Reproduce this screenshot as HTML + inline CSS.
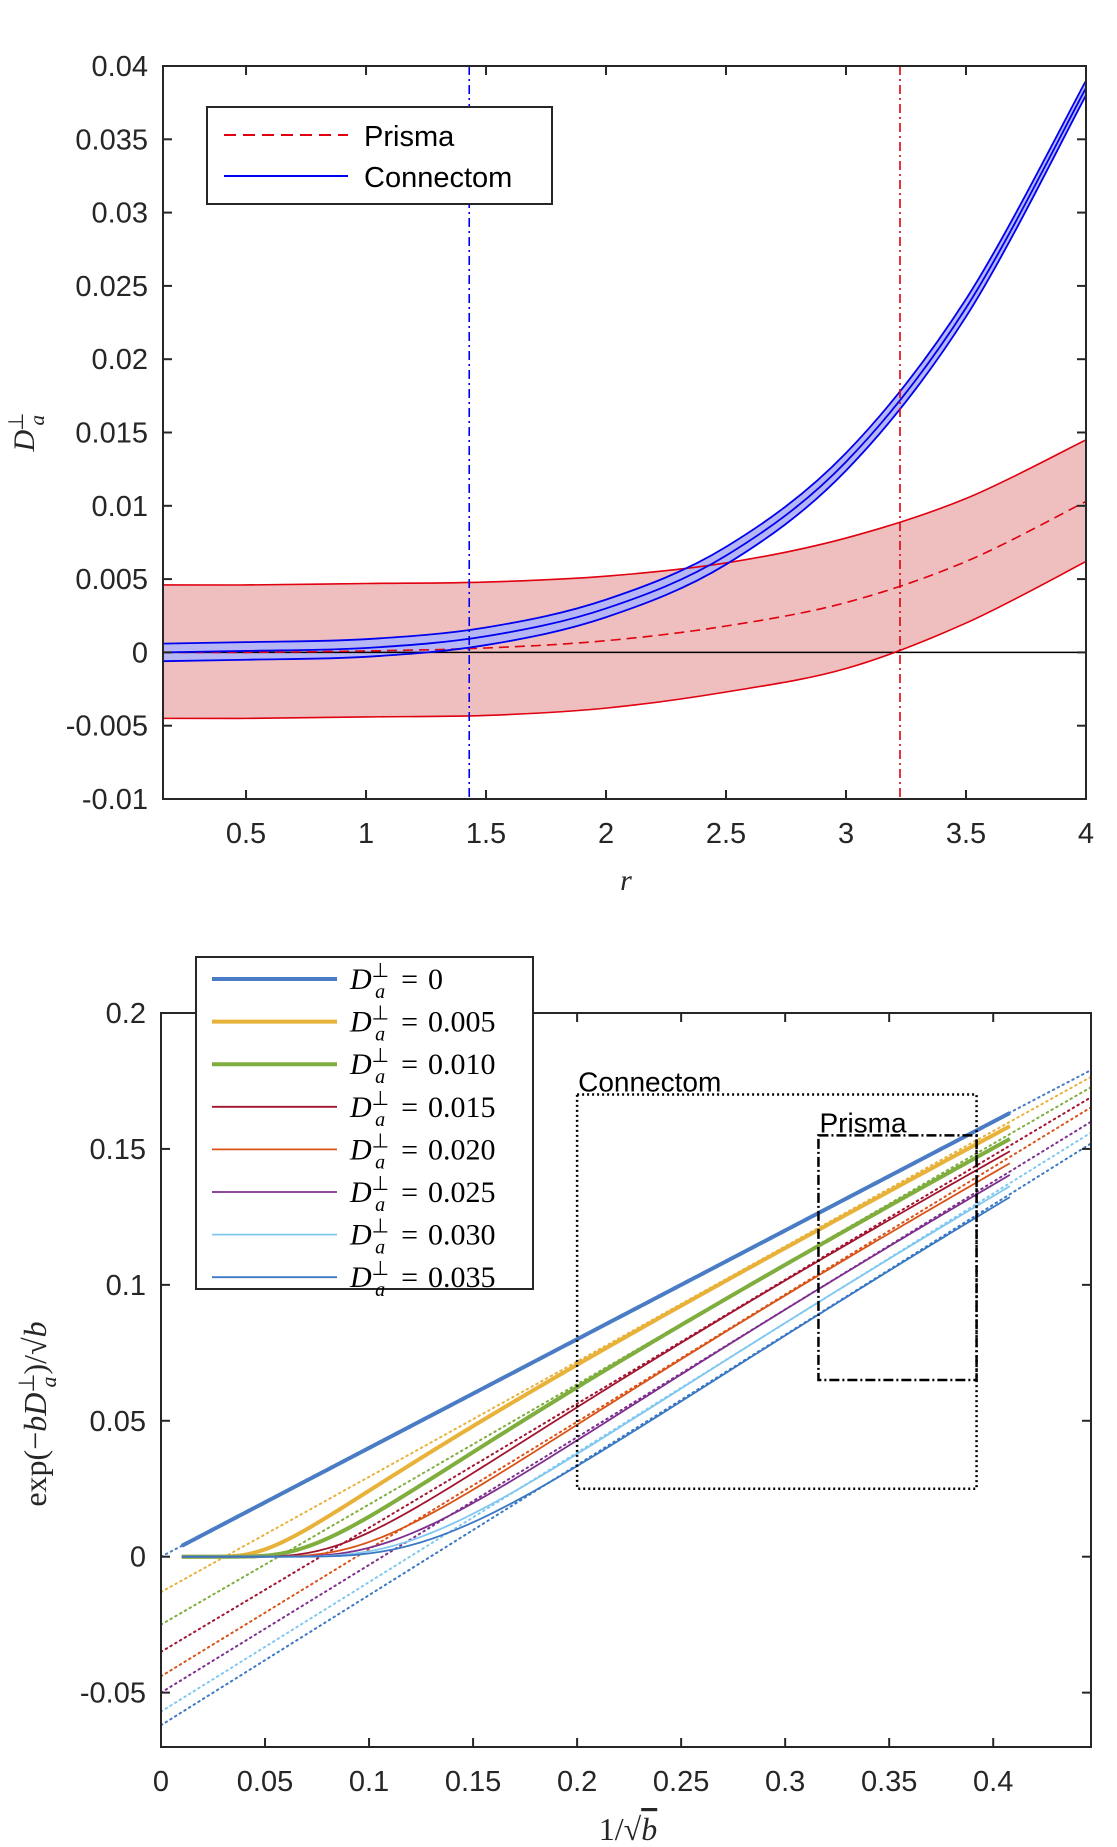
<!DOCTYPE html>
<html><head><meta charset="utf-8">
<style>
html,body{margin:0;padding:0;background:#fff;}
svg{display:block;font-family:"Liberation Sans",sans-serif;}
.tick{font-size:29px;fill:#262626;}
.math{font-family:"Liberation Serif",serif;}
</style></head>
<body>
<svg id="fig" width="1117" height="1847" viewBox="0 0 1117 1847" xmlns="http://www.w3.org/2000/svg">
<g id="top"></g>
<g id="bot"></g>
</svg>
<script>
// ===== Top chart data =====
const rSamples = [0.154, 0.5, 1, 1.5, 2, 2.5, 3, 3.5, 4];
const prismaMean = [0, 0, 0.0001, 0.0003, 0.0008, 0.0018, 0.0034, 0.0062, 0.0103];
const prismaUpper = [0.0046, 0.0046, 0.0047, 0.0048, 0.0052, 0.0061, 0.0078, 0.0105, 0.0145];
const prismaLower = [-0.0045, -0.0045, -0.0044, -0.0043, -0.0038, -0.0027, -0.0011, 0.0020, 0.0062];
const connMean = [0.0000, 0.0001, 0.0003, 0.0011, 0.0030, 0.0066, 0.0130, 0.0235, 0.0385];
const connUpper = [0.0006, 0.0007, 0.0009, 0.0017, 0.0036, 0.0072, 0.0136, 0.0241, 0.0390];
const connLower = [-0.0006, -0.0005, -0.0003, 0.0005, 0.0024, 0.0060, 0.0124, 0.0229, 0.0380];
const vlineConn = 1.43;
const vlinePrisma = 3.225;
const topXTicks = [0.5, 1, 1.5, 2, 2.5, 3, 3.5, 4];
const topYTicks = [-0.01, -0.005, 0, 0.005, 0.01, 0.015, 0.02, 0.025, 0.03, 0.035, 0.04];
const topYLabels = ["-0.01","-0.005","0","0.005","0.01","0.015","0.02","0.025","0.03","0.035","0.04"];

// ===== Bottom chart data =====
const dValues = [0, 0.005, 0.010, 0.015, 0.020, 0.025, 0.030, 0.035];
const dLabels = ["0", "0.005", "0.010", "0.015", "0.020", "0.025", "0.030", "0.035"];
const fitIntercepts = [0, -0.013, -0.025, -0.035, -0.044, -0.050, -0.057, -0.062];
const fitEndValues = [0.179, 0.1765, 0.1727, 0.169, 0.1653, 0.160, 0.156, 0.152];
const signalScale = [0.4];
const connectomBox = [0.2, 0.392, 0.025, 0.17];
const prismaBox = [0.316, 0.392, 0.065, 0.155];
const botXTicks = [0, 0.05, 0.1, 0.15, 0.2, 0.25, 0.3, 0.35, 0.4];
const botXLabels = ["0","0.05","0.1","0.15","0.2","0.25","0.3","0.35","0.4"];
const botYTicks = [-0.05, 0, 0.05, 0.1, 0.15, 0.2];
const botYLabels = ["-0.05","0","0.05","0.1","0.15","0.2"];

const NS = "http://www.w3.org/2000/svg";
function mk(parent, tag, attrs, text) {
  const e = document.createElementNS(NS, tag);
  for (const k in attrs) e.setAttribute(k, attrs[k]);
  if (text !== undefined) e.textContent = text;
  parent.appendChild(e);
  return e;
}
function crPath(pts) {
  let d = "M" + pts[0][0].toFixed(2) + "," + pts[0][1].toFixed(2);
  for (let i = 0; i < pts.length - 1; i++) {
    const p0 = pts[Math.max(0, i - 1)], p1 = pts[i], p2 = pts[i + 1], p3 = pts[Math.min(pts.length - 1, i + 2)];
    const c1 = [p1[0] + (p2[0] - p0[0]) / 6, p1[1] + (p2[1] - p0[1]) / 6];
    const c2 = [p2[0] - (p3[0] - p1[0]) / 6, p2[1] - (p3[1] - p1[1]) / 6];
    d += " C" + c1[0].toFixed(2) + "," + c1[1].toFixed(2) + " " + c2[0].toFixed(2) + "," + c2[1].toFixed(2) + " " + p2[0].toFixed(2) + "," + p2[1].toFixed(2);
  }
  return d;
}

// ---------- TOP ----------
(function () {
  const g = document.getElementById("top");
  const L = 163, R = 1086, T = 66, B = 799;
  const xmin = 0.154, xmax = 4, ymin = -0.01, ymax = 0.04;
  const sx = v => L + (v - xmin) / (xmax - xmin) * (R - L);
  const sy = v => B - (v - ymin) / (ymax - ymin) * (B - T);
  const pts = arr => rSamples.map((r, i) => [sx(r), sy(arr[i])]);

  const cp = mk(g, "clipPath", { id: "clipTop" });
  mk(cp, "rect", { x: L, y: T, width: R - L, height: B - T });
  const plot = mk(g, "g", { "clip-path": "url(#clipTop)" });

  const up = pts(prismaUpper), lo = pts(prismaLower).reverse();
  let band = mk(plot, "path", { d: crPath(up) + " L" + crPath(lo).slice(1) + " Z", fill: "#efbfbf", stroke: "none" });
  
  
  const cu = pts(connUpper), cl = pts(connLower).reverse();
  let cband = mk(plot, "path", { d: crPath(cu) + " L" + crPath(cl).slice(1) + " Z", fill: "#b6b6f5", stroke: "none" });
  
  
  let z = mk(plot, "line", { x1: L, x2: R, y1: sy(0), y2: sy(0), stroke: "#000", "stroke-width": 1.5 });
  
  
  [[prismaUpper, "prisma-upper"], [prismaLower, "prisma-lower"]].forEach(([a, n]) => {
    const p = mk(plot, "path", { d: crPath(pts(a)), fill: "none", stroke: "#e0000f", "stroke-width": 1.6 });
    
    
  });
  const pm = mk(plot, "path", { d: crPath(pts(prismaMean)), fill: "none", stroke: "#e0000f", "stroke-width": 1.6, "stroke-dasharray": "10,6" });
  
  
  [[connUpper, "connectom-upper"], [connMean, "connectom-mean"], [connLower, "connectom-lower"]].forEach(([a, n]) => {
    const p = mk(plot, "path", { d: crPath(pts(a)), fill: "none", stroke: "#0000f0", "stroke-width": 1.8 });
    
    
  });
  let v1 = mk(plot, "line", { x1: sx(vlineConn), x2: sx(vlineConn), y1: T, y2: B, stroke: "#0000f0", "stroke-width": 1.6, "stroke-dasharray": "9,4,2,4" });
  
  
  let v2 = mk(plot, "line", { x1: sx(vlinePrisma), x2: sx(vlinePrisma), y1: T, y2: B, stroke: "#e0000f", "stroke-width": 1.6, "stroke-dasharray": "9,4,2,4" });
  
  

  let box = mk(g, "rect", { x: L, y: T, width: R - L, height: B - T, fill: "none", stroke: "#262626", "stroke-width": 2 });
  
  
  topXTicks.forEach(t => {
    const x = sx(t);
    mk(g, "line", { x1: x, x2: x, y1: B, y2: B - 9, stroke: "#262626", "stroke-width": 2 });
    mk(g, "line", { x1: x, x2: x, y1: T, y2: T + 9, stroke: "#262626", "stroke-width": 2 });
    const tl = mk(g, "text", { x: x, y: B + 44, "text-anchor": "middle", class: "tick" }, String(t));
    
    
  });
  topYTicks.forEach((t, i) => {
    const y = sy(t);
    mk(g, "line", { x1: L, x2: L + 9, y1: y, y2: y, stroke: "#262626", "stroke-width": 2 });
    mk(g, "line", { x1: R, x2: R - 9, y1: y, y2: y, stroke: "#262626", "stroke-width": 2 });
    const tl = mk(g, "text", { x: L - 15, y: y + 10, "text-anchor": "end", class: "tick" }, topYLabels[i]);
    
    
  });
  const xt = mk(g, "text", { x: 626, y: 890, "text-anchor": "middle", class: "math", "font-size": 30, "font-style": "italic", fill: "#262626" }, "r");
  
  
  const yt = mk(g, "text", { transform: "translate(34,432) rotate(-90)", "text-anchor": "middle", class: "math", "font-size": 30, "font-style": "italic", fill: "#262626" });
  
  
  mk(yt, "tspan", {}, "D");
  mk(yt, "tspan", { dy: -11, dx: -1, "font-size": 21, "font-style": "normal" }, "⊥");
  mk(yt, "tspan", { dy: 21, dx: -13, "font-size": 21 }, "a");

  const lg = mk(g, "g", {});
  
  
  mk(lg, "rect", { x: 207, y: 107, width: 345, height: 97, fill: "#fff", stroke: "#262626", "stroke-width": 2 });
  const e1 = mk(lg, "g", {});
  
  
  mk(e1, "line", { x1: 224, x2: 348, y1: 135, y2: 135, stroke: "#e0000f", "stroke-width": 2, "stroke-dasharray": "12,7" });
  mk(e1, "text", { x: 364, y: 146, "font-size": 29, fill: "#000" }, "Prisma");
  const e2 = mk(lg, "g", {});
  
  
  mk(e2, "line", { x1: 224, x2: 348, y1: 176, y2: 176, stroke: "#0000f0", "stroke-width": 2 });
  mk(e2, "text", { x: 364, y: 187, "font-size": 29, fill: "#000" }, "Connectom");
})();

// ---------- BOTTOM ----------
(function () {
  const g = document.getElementById("bot");
  const L = 161, R = 1091, T = 1013, B = 1747;
  const xmin = 0, xmax = 0.447, ymin = -0.07, ymax = 0.2;
  const sx = v => L + (v - xmin) / (xmax - xmin) * (R - L);
  const sy = v => B - (v - ymin) / (ymax - ymin) * (B - T);
  const colors = ["#4a7cc6", "#e8b23a", "#7fad3e", "#a2142f", "#d95319", "#7e2f8e", "#80c8f0", "#3b78c4"];
  const widths = [4, 4, 4, 1.8, 1.8, 1.8, 1.8, 1.8];

  const cp = mk(g, "clipPath", { id: "clipBot" });
  mk(cp, "rect", { x: L, y: T, width: R - L, height: B - T });
  const plot = mk(g, "g", { "clip-path": "url(#clipBot)" });

  dValues.forEach((d, i) => {
    const ln = mk(plot, "line", { x1: sx(0), y1: sy(fitIntercepts[i]), x2: sx(xmax), y2: sy(fitEndValues[i]), stroke: colors[i], "stroke-width": 2, "stroke-dasharray": "1.5,4", "stroke-linecap": "round" });
    
    
  });
  dValues.forEach((d, i) => {
    let dd = "";
    for (let k = 0; k <= 200; k++) {
      const x = 0.01 + (0.408 - 0.01) * k / 200;
      const y = signalScale[0] * x * Math.exp(-d / (x * x));
      dd += (k ? " L" : "M") + sx(x).toFixed(2) + "," + sy(y).toFixed(2);
    }
    const p = mk(plot, "path", { d: dd, fill: "none", stroke: colors[i], "stroke-width": widths[i] });
    
    
  });
  const cb = mk(plot, "rect", { x: sx(connectomBox[0]), y: sy(connectomBox[3]), width: sx(connectomBox[1]) - sx(connectomBox[0]), height: sy(connectomBox[2]) - sy(connectomBox[3]), fill: "none", stroke: "#000", "stroke-width": 2.5, "stroke-dasharray": "2,3" });
  
  
  const pb = mk(plot, "rect", { x: sx(prismaBox[0]), y: sy(prismaBox[3]), width: sx(prismaBox[1]) - sx(prismaBox[0]), height: sy(prismaBox[2]) - sy(prismaBox[3]), fill: "none", stroke: "#000", "stroke-width": 2.5, "stroke-dasharray": "10,3,2,3" });
  
  
  const ct = mk(g, "text", { x: sx(connectomBox[0]) + 1, y: sy(connectomBox[3]) - 3, "font-size": 28, fill: "#000" }, "Connectom");
  
  
  const pt = mk(g, "text", { x: sx(prismaBox[0]) + 1, y: sy(prismaBox[3]) - 3, "font-size": 28, fill: "#000" }, "Prisma");
  
  

  let box = mk(g, "rect", { x: L, y: T, width: R - L, height: B - T, fill: "none", stroke: "#262626", "stroke-width": 2 });
  
  
  botXTicks.forEach((t, i) => {
    const x = sx(t);
    mk(g, "line", { x1: x, x2: x, y1: B, y2: B - 9, stroke: "#262626", "stroke-width": 2 });
    mk(g, "line", { x1: x, x2: x, y1: T, y2: T + 9, stroke: "#262626", "stroke-width": 2 });
    const tl = mk(g, "text", { x: x, y: B + 44, "text-anchor": "middle", class: "tick" }, botXLabels[i]);
    
    
  });
  botYTicks.forEach((t, i) => {
    const y = sy(t);
    mk(g, "line", { x1: L, x2: L + 9, y1: y, y2: y, stroke: "#262626", "stroke-width": 2 });
    mk(g, "line", { x1: R, x2: R - 9, y1: y, y2: y, stroke: "#262626", "stroke-width": 2 });
    const tl = mk(g, "text", { x: L - 15, y: y + 10, "text-anchor": "end", class: "tick" }, botYLabels[i]);
    
    
  });
  const xt = mk(g, "text", { x: 628, y: 1840, "text-anchor": "middle", class: "math", "font-size": 32, fill: "#262626" });
  
  
  mk(xt, "tspan", {}, "1/√");
  mk(xt, "tspan", { "font-style": "italic", "text-decoration": "overline" }, "b");
  const yt = mk(g, "text", { transform: "translate(46,1414) rotate(-90)", "text-anchor": "middle", class: "math", "font-size": 32, fill: "#262626" });
  
  
  mk(yt, "tspan", {}, "exp(−");
  mk(yt, "tspan", { "font-style": "italic" }, "bD");
  mk(yt, "tspan", { dy: -12, "font-size": 22 }, "⊥");
  mk(yt, "tspan", { dy: 22, dx: -14, "font-size": 22, "font-style": "italic" }, "a");
  mk(yt, "tspan", { dy: -10, dx: 2 }, ")/√");
  mk(yt, "tspan", { "font-style": "italic" }, "b");

  const lg = mk(g, "g", {});
  
  
  mk(lg, "rect", { x: 196, y: 957, width: 337, height: 332, fill: "#fff", stroke: "#262626", "stroke-width": 2 });
  dValues.forEach((d, i) => {
    const y = 979 + i * 42.6;
    const e = mk(lg, "g", {});
    
    
    mk(e, "line", { x1: 212, x2: 337, y1: y, y2: y, stroke: colors[i], "stroke-width": widths[i] });
    const t = mk(e, "text", { x: 350, y: y + 10, class: "math", "font-size": 30, fill: "#000" });
    mk(t, "tspan", { "font-style": "italic" }, "D");
    mk(t, "tspan", { dy: -12, dx: 0, "font-size": 20 }, "⊥");
    mk(t, "tspan", { dy: 21, dx: -14, "font-size": 20, "font-style": "italic" }, "a");
    mk(t, "tspan", { dy: -9, dx: 16 }, "=");
    mk(t, "tspan", { dx: 10 }, dLabels[i]);
  });
})();
</script>
</body></html>
